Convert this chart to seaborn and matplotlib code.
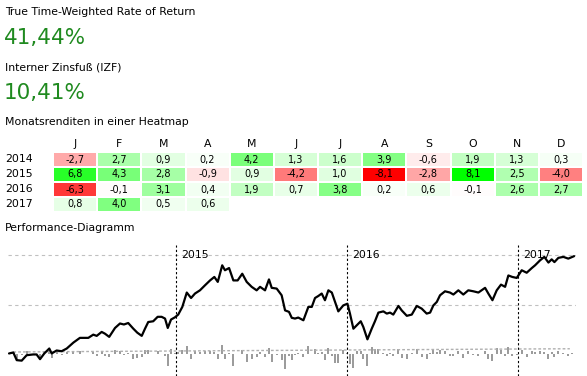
import numpy as np
import pandas as pd
import matplotlib
matplotlib.use('Agg')
import matplotlib.pyplot as plt
import seaborn as sns
from matplotlib.colors import LinearSegmentedColormap

# =========================
# DATA
# =========================
ttwror_text = '41,44%'
izf_text = '10,41%'

months = ['J', 'F', 'M', 'A', 'M', 'J', 'J', 'A', 'S', 'O', 'N', 'D']
years = ['2014', '2015', '2016', '2017']
monthly_returns = [
    [-2.7, 2.7, 0.9, 0.2, 4.2, 1.3, 1.6, 3.9, -0.6, 1.9, 1.3, 0.3],
    [6.8, 4.3, 2.8, -0.9, 0.9, -4.2, 1.0, -8.1, -2.8, 8.1, 2.5, -4.0],
    [-6.3, -0.1, 3.1, 0.4, 1.9, 0.7, 3.8, 0.2, 0.6, -0.1, 2.6, 2.7],
    [0.8, 4.0, 0.5, 0.6, np.nan, np.nan, np.nan, np.nan, np.nan, np.nan, np.nan, np.nan],
]

# performance curve (decimal year, cumulative %)
perf_time = [
    2014.025, 2014.050, 2014.070, 2014.099, 2014.128, 2014.166, 2014.186, 2014.206, 2014.231, 2014.260,
    2014.274, 2014.303, 2014.332, 2014.362, 2014.401, 2014.439, 2014.488, 2014.517, 2014.537, 2014.566,
    2014.585, 2014.610, 2014.644, 2014.673, 2014.696, 2014.721, 2014.751, 2014.774, 2014.800,
    2014.819, 2014.838, 2014.867, 2014.893, 2014.916, 2014.936, 2014.952, 2014.971, 2014.994, 2015.013,
    2015.037, 2015.063, 2015.088, 2015.111, 2015.140, 2015.169, 2015.199, 2015.224, 2015.244, 2015.270,
    2015.286, 2015.310, 2015.335, 2015.360, 2015.387, 2015.413, 2015.442, 2015.471, 2015.491, 2015.520,
    2015.543, 2015.559, 2015.588, 2015.617, 2015.637, 2015.660, 2015.676, 2015.695,
    2015.714, 2015.744, 2015.773, 2015.793, 2015.812, 2015.831, 2015.851, 2015.870, 2015.890, 2015.910,
    2015.929, 2015.948, 2015.977, 2016.001, 2016.016, 2016.036, 2016.056, 2016.079, 2016.094, 2016.118,
    2016.143, 2016.162, 2016.182, 2016.211, 2016.231, 2016.250, 2016.269, 2016.299, 2016.318, 2016.348,
    2016.377, 2016.406, 2016.435, 2016.464, 2016.484, 2016.503, 2016.523, 2016.542,
    2016.571, 2016.600, 2016.620, 2016.649, 2016.678, 2016.707, 2016.737, 2016.766, 2016.805, 2016.824,
    2016.848, 2016.873, 2016.898, 2016.922, 2016.941, 2016.964, 2016.990, 2017.019, 2017.048, 2017.078,
    2017.097, 2017.126, 2017.151, 2017.175, 2017.194, 2017.210, 2017.233, 2017.262, 2017.291, 2017.315,
    2017.325,
]
perf_value = [
    0.4, 0.8, -2.3, -2.5, -0.3, 0.0, 0.0, -1.9, 0.4, 2.4,
    0.4, 1.6, 1.3, 2.4, 4.8, 6.7, 6.7, 8.0, 7.5, 9.1,
    8.4, 7.1, 10.7, 12.5, 12.1, 12.7, 10.4, 8.8, 7.5,
    10.4, 13.1, 13.4, 15.2, 15.2, 14.5, 10.7, 14.1, 15.0, 16.1,
    19.2, 25.0, 22.8, 24.6, 25.9, 27.9, 29.9, 31.3, 29.3, 36.0,
    34.0, 34.9, 29.9, 29.9, 32.6, 29.3, 27.3, 25.9, 27.3, 25.9,
    30.3, 26.9, 26.6, 23.9, 17.8, 17.2, 14.8, 14.5,
    14.9, 13.8, 19.2, 19.2, 22.8, 23.6, 24.6, 21.9, 25.9, 25.0,
    21.2, 17.4, 19.8, 20.5, 16.5, 10.4, 11.8, 13.4, 11.1, 6.1,
    10.4, 13.4, 16.9, 17.4, 16.5, 16.9, 16.1, 19.6, 17.8, 15.6,
    16.1, 19.6, 18.5, 16.5, 16.9, 19.8, 21.2, 23.9,
    25.5, 25.0, 24.2, 25.9, 24.2, 25.9, 25.5, 25.0, 26.9, 24.6,
    21.9, 25.9, 28.2, 27.3, 31.9, 31.3, 30.9, 34.0, 33.0, 34.9,
    36.0, 38.0, 39.4, 37.1, 38.4, 37.3, 39.0, 39.4, 38.7, 39.4,
    39.7,
]
# periodic returns shown as grey bars (%)
period_return = [
    0.3, 0.4, -2.5, -0.2, 1.5, 0.3, 0.2, -1.5, 1.5, 1.2,
    -1.5, 0.8, -0.3, 0.8, 1.5, 1.2, 0.2, 1.0, -0.5, 1.0,
    -0.6, -1.0, 2.0, 1.2, -0.4, 0.5, -1.8, -1.4, -1.0,
    2.0, 1.8, 0.3, 1.2, 0.2, -0.7, -4.8, 2.2, 0.7, 0.8,
    2.0, 3.5, -1.8, 1.2, 1.0, 1.4, 1.4, 1.0, -1.8, 3.8,
    -1.8, 0.7, -4.5, 0.2, 1.8, -3.0, -1.8, -1.2, 1.0, -1.2,
    2.8, -3.0, -0.3, -2.4, -6.0, -0.6, -2.2, -0.3,
    0.4, -1.0, 3.5, 0.2, 2.4, 0.7, 0.8, -2.4, 2.6, -0.8,
    -3.4, -3.6, 1.6, 0.6, -3.8, -5.5, 1.2, 1.2, -2.0, -4.6,
    3.0, 2.2, 2.4, 0.5, -0.8, 0.4, -0.7, 2.4, -1.6, -2.0,
    0.4, 2.4, -1.0, -1.8, 0.4, 2.0, 1.0, 1.8,
    1.2, -0.5, -0.7, 1.2, -1.5, 1.2, -0.4, -0.5, 1.3, -2.0,
    -2.5, 2.6, 1.6, -0.8, 3.0, -0.6, -0.4, 2.0, -0.9, 1.3,
    0.8, 1.4, 1.0, -2.0, 0.9, -1.0, 1.2, 0.4, -0.6, 0.5,
    0.3,
]
# faint grey reference line near the zero level
ref_time = [2014.05, 2014.5, 2015.0, 2015.5, 2016.0, 2016.5, 2017.0, 2017.3]
ref_value = [1.0, 1.2, 1.4, 1.6, 1.8, 2.0, 2.2, 2.3]

year_marks = [2015, 2016, 2017]
grid_levels = [20, 40]

# =========================
# STYLE
# =========================
sns.set_theme(style='white')
plt.rcParams['font.family'] = ['DejaVu Sans']
plt.rcParams['text.color'] = 'black'

W, H = 587, 376
fig = plt.figure(figsize=(W / 100, H / 100), dpi=100)
green = '#1f8a1f'
small = 7.8

# =========================
# KPI TEXT
# =========================
fig.text(5 / W, 1 - 12 / H, 'True Time-Weighted Rate of Return', fontsize=small, va='center')
fig.text(4 / W, 1 - 38 / H, ttwror_text, fontsize=15.5, color=green, va='center')
fig.text(5 / W, 1 - 67 / H, 'Interner Zinsfuß (IZF)', fontsize=small, va='center')
fig.text(4 / W, 1 - 93 / H, izf_text, fontsize=15.5, color=green, va='center')
fig.text(5 / W, 1 - 122 / H, 'Monatsrenditen in einer Heatmap', fontsize=small, va='center')
fig.text(5 / W, 1 - 228 / H, 'Performance-Diagramm', fontsize=small, va='center')

# =========================
# HEATMAP
# =========================
hm = pd.DataFrame(monthly_returns, index=years, columns=range(12))
labels = hm.map(lambda v: '' if pd.isna(v) else f'{v:.1f}'.replace('.', ','))
cmap = LinearSegmentedColormap.from_list('rg', ['#ff0000', '#ffffff', '#00ff00'])

ax_hm = fig.add_axes([53 / W, 1 - 212 / H, 530 / W, 60 / H])
sns.heatmap(hm, ax=ax_hm, cmap=cmap, vmin=-8.1, vmax=8.1, annot=labels, fmt='',
            annot_kws={'fontsize': 7, 'color': 'black'}, cbar=False,
            linewidths=1.4, linecolor='white', mask=hm.isna())
ax_hm.xaxis.tick_top()
ax_hm.set_xticklabels(months, fontsize=small, color='black')
ax_hm.set_yticks([])
ax_hm.tick_params(length=0, pad=2)
ax_hm.set_xlabel('')
ax_hm.set_ylabel('')
for i, yr in enumerate(years):
    fig.text(5 / W, 1 - (159 + 15 * i) / H, yr, fontsize=small, va='center')

# =========================
# PERFORMANCE CHART
# =========================
ax = fig.add_axes([8 / W, 0, 568 / W, 131 / H])
ax.bar(perf_time, period_return, width=0.011, color='#9c9c9c',
       edgecolor='none', linewidth=0, zorder=1)
sns.lineplot(x=ref_time, y=ref_value, ax=ax, color='#b0b0b0', lw=1,
             linestyle=(0, (2, 1.5)), zorder=2)
sns.lineplot(x=perf_time, y=perf_value, ax=ax, color='black', lw=1.6, zorder=3)

for g in grid_levels:
    ax.axhline(g, color='#c0c0c0', lw=0.8, linestyle=(0, (3, 3)), zorder=0)
for yr in year_marks:
    ax.axvline(yr, color='black', lw=0.8, linestyle=(0, (2, 2)), zorder=4)
    ax.text(yr + 0.03, 40, str(yr), fontsize=small, va='center', ha='left', zorder=5)

ax.set_xlim(2014.019, 2017.336)
ax.set_ylim(-8.7, 44.2)
ax.axis('off')

fig.savefig('out.png', dpi=100)
